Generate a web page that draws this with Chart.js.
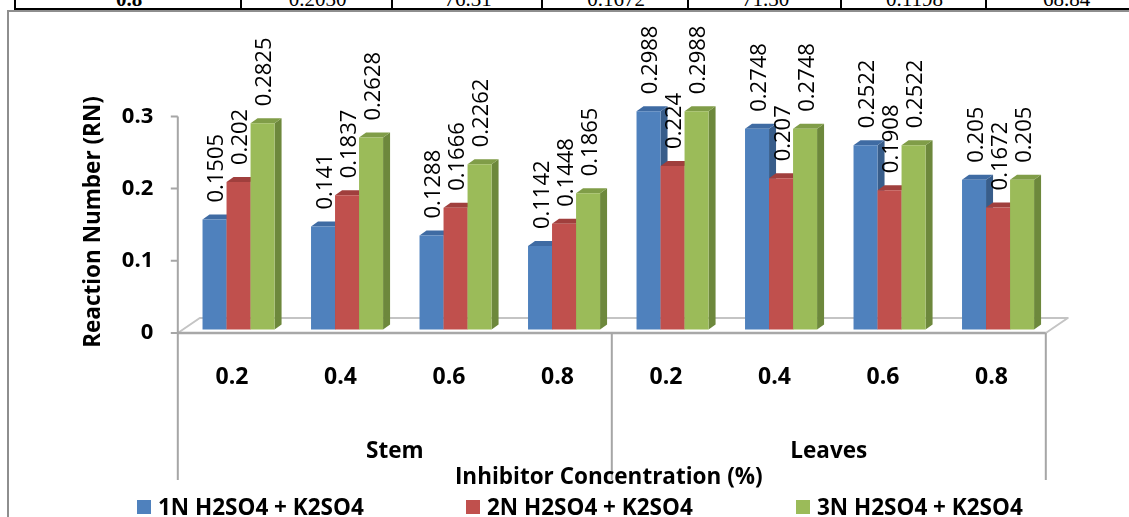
<!DOCTYPE html>
<html>
<head>
<meta charset="utf-8">
<script src="https://cdn.jsdelivr.net/npm/chart.js@4/dist/chart.umd.min.js"></script>
<style>
  html, body { margin: 0; padding: 0; background: #fff; }
  #wrap { position: relative; width: 1129px; height: 517px; overflow: hidden; background: #fff; }
  #frame { position: absolute; left: 7px; top: 10px; width: 1140px; height: 520px;
           border-left: 2px solid #8e8e8e; border-top: 2px solid #8e8e8e; }
  #tbl { position: absolute; left: 14px; top: 0; width: 1120px; height: 8px;
         border-bottom: 2px solid #000; overflow: hidden; }
  .cell { position: absolute; top: 0; height: 8px; border-left: 2px solid #000; overflow: hidden;
          font-family: "Liberation Serif", "Times New Roman", serif; font-size: 21px; color: #000; }
  .cell span { position: absolute; left: 0; right: 0; top: -11px; line-height: 21px; text-align: center; }
  .cell.b span { font-weight: bold; }
  canvas { position: absolute; left: 0; top: 0; }
</style>
</head>
<body>
<div id="wrap">
  <div id="tbl"></div>
  <div id="frame"></div>
  <canvas id="c" width="1129" height="517"></canvas>
</div>
<script>
// Reaction number per inhibitor concentration, plant part and acid medium
const categories = ['0.2', '0.4', '0.6', '0.8', '0.2', '0.4', '0.6', '0.8'];
const groups = ['Stem', 'Leaves'];
const series1N = [0.1505, 0.141, 0.1288, 0.1142, 0.2988, 0.2748, 0.2522, 0.205];
const series2N = [0.202, 0.1837, 0.1666, 0.1448, 0.224, 0.207, 0.1908, 0.1672];
const series3N = [0.2825, 0.2628, 0.2262, 0.1865, 0.2988, 0.2748, 0.2522, 0.205];
const seriesNames = ['1N H2SO4 + K2SO4', '2N H2SO4 + K2SO4', '3N H2SO4 + K2SO4'];
const yTicks = [0, 0.1, 0.2, 0.3];
const yTitle = 'Reaction Number (RN)';
const xTitle = 'Inhibitor Concentration (%)';

// last row of the table above the chart (only its lower edge shows)
const tableRow = ['0.8', '0.2030', '76.31', '0.1672', '71.30', '0.1198', '68.84'];
const tableCols = [0, 226, 377, 527, 673, 826, 971, 1130];

(function buildTable() {
  const t = document.getElementById('tbl');
  tableRow.forEach((txt, i) => {
    const d = document.createElement('div');
    d.className = 'cell' + (i === 0 ? ' b' : '');
    d.style.left = tableCols[i] + 'px';
    d.style.width = (tableCols[i + 1] - tableCols[i]) + 'px';
    const s = document.createElement('span');
    s.textContent = txt;
    d.appendChild(s);
    t.appendChild(d);
  });
})();

// face colours: front, right side, top
const faces = [
  { front: '#4f81bd', side: '#385d8a', top: '#3f6ba3' },
  { front: '#c0504d', side: '#8c3a38', top: '#a03f3d' },
  { front: '#9bbb59', side: '#6d883c', top: '#809d48' }
];

const BOLD = '"Open Sans", "Noto Sans", sans-serif';
const BAR_DX = 7, BAR_DY = -5;       // bar depth projection
const FLOOR_DX = 22, FLOOR_DY = -15; // floor depth projection
const FRONT_SHIFT = 6.5;             // bars sit a little behind the front edge
const LEGEND_X = [137, 466, 796];

function poly(ctx, pts, fill) {
  ctx.beginPath();
  ctx.moveTo(pts[0][0], pts[0][1]);
  for (let k = 1; k < pts.length; k++) ctx.lineTo(pts[k][0], pts[k][1]);
  ctx.closePath();
  ctx.fillStyle = fill;
  ctx.fill();
}

const depth3d = {
  id: 'depth3d',
  beforeDatasetsDraw(chart) {
    const ctx = chart.ctx;
    const xs = chart.scales.x, ys = chart.scales.y;
    const zeroY = ys.getPixelForValue(0);
    const fl = xs.left - FRONT_SHIFT, fr = xs.right - FRONT_SHIFT;

    // floor
    ctx.save();
    ctx.lineJoin = 'round';
    ctx.strokeStyle = '#c4c4c4';
    ctx.lineWidth = 2;
    ctx.beginPath();
    ctx.moveTo(fl, zeroY);
    ctx.lineTo(fl + FLOOR_DX, zeroY + FLOOR_DY);
    ctx.lineTo(fr + FLOOR_DX, zeroY + FLOOR_DY);
    ctx.lineTo(fr, zeroY);
    ctx.stroke();
    ctx.strokeStyle = '#a8a8a8';
    ctx.lineWidth = 2.5;
    ctx.beginPath();
    ctx.moveTo(fl, zeroY);
    ctx.lineTo(fr, zeroY);
    ctx.stroke();
    ctx.restore();

    // bars, drawn left to right so each one hides its neighbour's side face
    const n = chart.data.labels.length;
    const nd = chart.data.datasets.length;
    for (let i = 0; i < n; i++) {
      for (let d = 0; d < nd; d++) {
        const el = chart.getDatasetMeta(d).data[i];
        const p = el.getProps(['x', 'y', 'base', 'width'], true);
        const l = p.x - p.width / 2, r = p.x + p.width / 2;
        const t = p.y, b = p.base;
        const f = faces[d];
        poly(ctx, [[r, t], [r + BAR_DX, t + BAR_DY], [r + BAR_DX, b + BAR_DY], [r, b]], f.side);
        poly(ctx, [[l, t], [r, t], [r + BAR_DX, t + BAR_DY], [l + BAR_DX, t + BAR_DY]], f.top);
        poly(ctx, [[l, t], [r, t], [r, b], [l, b]], f.front);
      }
    }

    // value labels
    ctx.save();
    ctx.fillStyle = '#000';
    ctx.font = '22px "Open Sans", "Noto Sans", sans-serif';
    ctx.textAlign = 'left';
    ctx.textBaseline = 'middle';
    for (let d = 0; d < nd; d++) {
      const meta = chart.getDatasetMeta(d);
      const vals = chart.data.datasets[d].data;
      meta.data.forEach((el, i) => {
        const p = el.getProps(['x', 'y'], true);
        ctx.save();
        ctx.translate(p.x + 2.5, p.y - 17);
        ctx.rotate(-Math.PI / 2);
        ctx.fillText(String(vals[i]), 0, 0);
        ctx.restore();
      });
    }
    ctx.restore();
    return false;
  },
  afterDraw(chart) {
    const ctx = chart.ctx;
    const xs = chart.scales.x, ys = chart.scales.y;
    const zeroY = ys.getPixelForValue(0);
    const fl = xs.left - FRONT_SHIFT, fr = xs.right - FRONT_SHIFT;
    const lowEnd = 480;
    const per = categories.length / groups.length;
    const band = (xs.right - xs.left) / categories.length;

    ctx.save();
    // value axis line with tick marks, continuing down as the left divider
    ctx.strokeStyle = '#a6a6a6';
    ctx.lineWidth = 2;
    ctx.beginPath();
    ctx.moveTo(fl, ys.getPixelForValue(yTicks[yTicks.length - 1]));
    ctx.lineTo(fl, lowEnd);
    yTicks.forEach(v => {
      const yy = ys.getPixelForValue(v);
      ctx.moveTo(fl - 7, yy);
      ctx.lineTo(fl, yy);
    });
    // group dividers
    for (let g = 1; g <= groups.length; g++) {
      const xx = fl + g * per * band;
      ctx.moveTo(xx, zeroY);
      ctx.lineTo(xx, lowEnd);
    }
    ctx.stroke();

    ctx.fillStyle = '#000';
    ctx.textAlign = 'center';
    ctx.textBaseline = 'alphabetic';

    // category labels
    ctx.font = 'bold 23px ' + BOLD;
    categories.forEach((c, i) => {
      ctx.fillText(c, xs.getPixelForValue(i) - FRONT_SHIFT, 384);
    });

    // group labels
    ctx.font = 'bold 22.5px ' + BOLD;
    groups.forEach((g, k) => {
      const cx = fl + (k + 0.5) * per * band;
      ctx.fillText(g, cx, 458);
    });

    // axis titles
    ctx.fillText(xTitle, (fl + fr) / 2 - 3, 484);
    ctx.save();
    ctx.translate(100, 222);
    ctx.rotate(-Math.PI / 2);
    ctx.fillText(yTitle, 0, 0);
    ctx.restore();

    // legend
    ctx.textAlign = 'left';
    chart.data.datasets.forEach((ds, d) => {
      ctx.fillStyle = faces[d].front;
      ctx.fillRect(LEGEND_X[d], 500, 14, 14);
      ctx.fillStyle = '#000';
      ctx.fillText(ds.label, LEGEND_X[d] + 21, 515);
    });
    ctx.restore();
  }
};

new Chart(document.getElementById('c'), {
  type: 'bar',
  data: {
    labels: categories,
    datasets: [
      { label: seriesNames[0], data: series1N, backgroundColor: faces[0].front, yAxisID: 'yb' },
      { label: seriesNames[1], data: series2N, backgroundColor: faces[1].front, yAxisID: 'yb' },
      { label: seriesNames[2], data: series3N, backgroundColor: faces[2].front, yAxisID: 'yb' }
    ]
  },
  options: {
    responsive: false,
    animation: false,
    events: [],
    layout: { padding: { left: 0, right: 76.7, top: 39.7, bottom: 184 } },
    datasets: { bar: { categoryPercentage: 0.664, barPercentage: 1.0 } },
    plugins: { legend: { display: false }, tooltip: { enabled: false } },
    scales: {
      x: { display: false, offset: true },
      y: {
        position: 'left',
        min: 0,
        max: 0.4,
        afterBuildTicks: (axis) => { axis.ticks = yTicks.map(v => ({ value: v })); },
        afterFit: (axis) => { axis.width = 184.3; },
        grid: { display: false, drawTicks: false },
        border: { display: false },
        ticks: {
          padding: 31,
          color: '#000',
          font: { family: BOLD, weight: 'bold', size: 22 },
          callback: (v) => String(v)
        }
      },
      // bars stand a little behind the value axis plane
      yb: { display: false, min: -0.00472, max: 0.3906 }
    }
  },
  plugins: [depth3d]
});
</script>
</body>
</html>
